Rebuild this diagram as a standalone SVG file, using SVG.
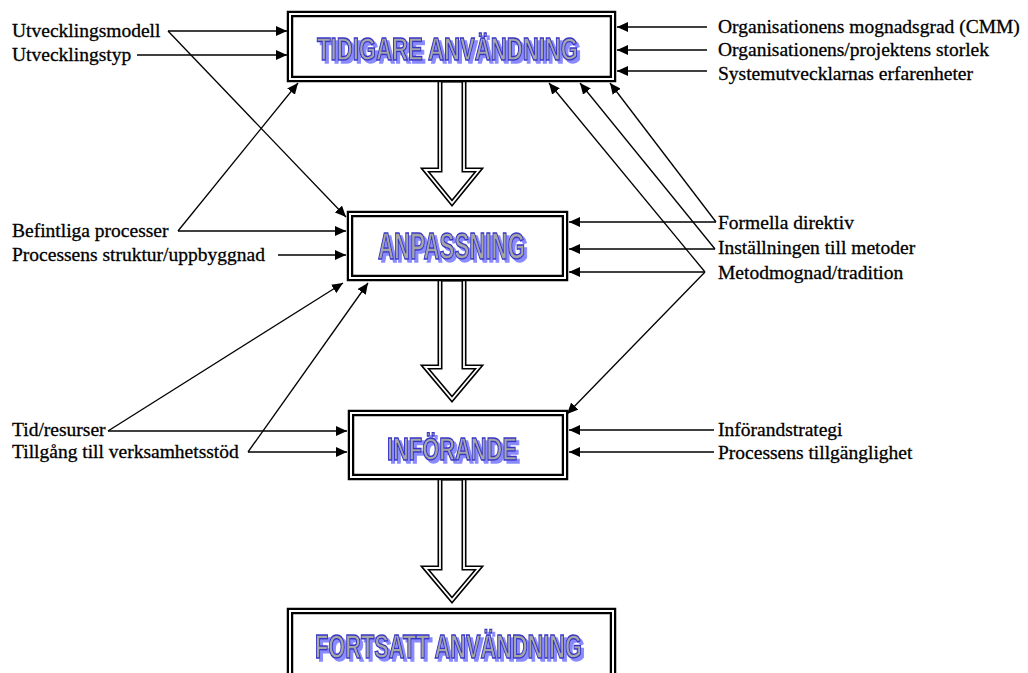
<svg xmlns="http://www.w3.org/2000/svg" width="1028" height="673" viewBox="0 0 1028 673">
  <defs>
    <marker id="head" markerUnits="userSpaceOnUse" markerWidth="12" markerHeight="10" refX="11" refY="5" orient="auto">
      <path d="M0,0 L11,5 L0,10 z" fill="#000"/>
    </marker>
    <!-- light blue drop shadow behind the stage titles -->
    <filter id="titleShadow" x="-5%" y="-20%" width="115%" height="150%">
      <feFlood flood-color="#8a8aff" result="tint"/>
      <feComposite in="tint" in2="SourceAlpha" operator="in" result="shape"/>
      <feOffset in="shape" dx="3" dy="3" result="moved"/>
      <feMerge>
        <feMergeNode in="moved"/>
        <feMergeNode in="SourceGraphic"/>
      </feMerge>
    </filter>
  </defs>
  <style>
    .lbl { font-family: "Liberation Serif", "Times New Roman", serif; font-size: 19.5px; fill: #000; stroke: #000; stroke-width: 0.3; }
    .conn { stroke: #000; stroke-width: 1.3; fill: none; marker-end: url(#head); }
    .frameOuter { fill: #fff; stroke: #000; stroke-width: 6.5; }
    .frameInner { fill: none; stroke: #fff; stroke-width: 2; }
    .arrowOuter { fill: #fff; stroke: #000; stroke-width: 5; stroke-linejoin: miter; stroke-miterlimit: 10; }
    .arrowInner { fill: none; stroke: #fff; stroke-width: 1.8; stroke-linejoin: miter; stroke-miterlimit: 10; }
    .title { font-family: "Liberation Sans Narrow", "Liberation Sans", Arial, sans-serif; font-weight: bold;
             fill: #a6a6a6; stroke: #3535c8; stroke-width: 1.4; filter: url(#titleShadow); }
  </style>

  <!-- block arrows between the stages -->
  <g id="flow-arrows">
    <polygon class="arrowOuter" points="440,80 464,80 464,170 479,170 452,203 425,170 440,170"/>
    <polygon class="arrowInner" points="440,80 464,80 464,170 479,170 452,203 425,170 440,170"/>
    <polygon class="arrowOuter" points="440,279 464,279 464,367 479,367 452,399 425,367 440,367"/>
    <polygon class="arrowInner" points="440,279 464,279 464,367 479,367 452,399 425,367 440,367"/>
    <polygon class="arrowOuter" points="440,478 464,478 464,568 479,568 452,600 425,568 440,568"/>
    <polygon class="arrowInner" points="440,478 464,478 464,568 479,568 452,600 425,568 440,568"/>
  </g>

  <g id="node-tidigare">
    <rect class="frameOuter" x="290" y="14" width="323" height="65"/>
    <rect class="frameInner" x="290" y="14" width="323" height="65"/>
    <text class="title" x="317" y="60" font-size="32" textLength="261" lengthAdjust="spacingAndGlyphs">TIDIGARE ANVÄNDNING</text>
  </g>

  <g id="node-anpassning">
    <rect class="frameOuter" x="350" y="214" width="215" height="64"/>
    <rect class="frameInner" x="350" y="214" width="215" height="64"/>
    <text class="title" x="378" y="259" font-size="37" textLength="147" lengthAdjust="spacingAndGlyphs">ANPASSNING</text>
  </g>

  <g id="node-inforande">
    <rect class="frameOuter" x="351" y="413" width="214" height="64"/>
    <rect class="frameInner" x="351" y="413" width="214" height="64"/>
    <text class="title" x="387" y="460" font-size="32" textLength="130" lengthAdjust="spacingAndGlyphs">INFÖRANDE</text>
  </g>

  <g id="node-fortsatt">
    <rect class="frameOuter" x="290" y="611" width="323" height="80"/>
    <rect class="frameInner" x="290" y="611" width="323" height="80"/>
    <text class="title" x="315" y="658" font-size="34" textLength="267" lengthAdjust="spacingAndGlyphs">FORTSATT ANVÄNDNING</text>
  </g>

  <g id="connectors">
    <!-- left-hand factors -->
    <path class="conn" d="M168,31 H287"/>
    <path class="conn" d="M137,55 H287"/>
    <path class="conn" d="M168,31 L346,217"/>
    <path class="conn" d="M178,231 L298,83"/>
    <path class="conn" d="M178,231 H346"/>
    <path class="conn" d="M278,255 H346"/>
    <path class="conn" d="M108,431 L343,283"/>
    <path class="conn" d="M108,431 H347"/>
    <path class="conn" d="M248,452 L368,283"/>
    <path class="conn" d="M248,452 H347"/>
    <!-- right-hand factors -->
    <path class="conn" d="M707,27 H617"/>
    <path class="conn" d="M707,50 H617"/>
    <path class="conn" d="M707,71 H617"/>
    <path class="conn" d="M716,222 L610,83"/>
    <path class="conn" d="M716,222 H569"/>
    <path class="conn" d="M715,249 L580,83"/>
    <path class="conn" d="M715,249 H569"/>
    <path class="conn" d="M705,272 L549,83"/>
    <path class="conn" d="M705,272 H569"/>
    <path class="conn" d="M705,272 L567,414"/>
    <path class="conn" d="M714,430 H569"/>
    <path class="conn" d="M714,452 H569"/>
  </g>

  <g id="labels-left">
    <text class="lbl" x="12" y="37">Utvecklingsmodell</text>
    <text class="lbl" x="12" y="61">Utvecklingstyp</text>
    <text class="lbl" x="12" y="237">Befintliga processer</text>
    <text class="lbl" x="12" y="261">Processens struktur/uppbyggnad</text>
    <text class="lbl" x="12" y="436">Tid/resurser</text>
    <text class="lbl" x="12" y="458">Tillgång till verksamhetsstöd</text>
  </g>

  <g id="labels-right">
    <text class="lbl" x="718" y="33">Organisationens mognadsgrad (CMM)</text>
    <text class="lbl" x="718" y="56">Organisationens/projektens storlek</text>
    <text class="lbl" x="718" y="80">Systemutvecklarnas erfarenheter</text>
    <text class="lbl" x="718" y="229">Formella direktiv</text>
    <text class="lbl" x="718" y="254">Inställningen till metoder</text>
    <text class="lbl" x="718" y="279">Metodmognad/tradition</text>
    <text class="lbl" x="718" y="436">Införandstrategi</text>
    <text class="lbl" x="718" y="459">Processens tillgänglighet</text>
  </g>
</svg>
